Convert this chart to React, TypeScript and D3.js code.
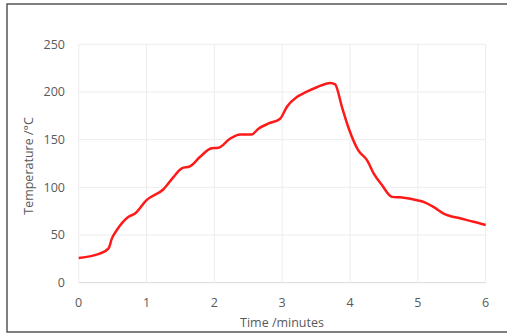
import React, { useEffect, useRef } from 'react';
import * as d3 from 'd3';

// time in minutes
const times = [0, 0.31, 0.44, 0.49, 0.56, 0.73, 0.83, 1.0, 1.25, 1.4, 1.52, 1.64, 1.79, 1.96, 2.06, 2.23, 2.38, 2.55, 2.65, 2.8, 2.97, 3.07, 3.22, 3.34, 3.51, 3.71, 3.78, 3.88, 3.98, 4.12, 4.25, 4.35, 4.47, 4.62, 4.74, 4.99, 5.11, 5.23, 5.38, 5.62, 5.82, 6.0];
// temperature in °C
const temps = [26, 30.5, 36, 46.5, 55, 69, 72.5, 86.5, 98, 111, 120, 122, 132, 141, 141.5, 151, 155.5, 155.5, 161.5, 167, 172, 184.5, 195, 199.5, 205, 209.5, 208, 184.5, 162, 139, 128.5, 114.5, 102.5, 90, 89.5, 86.5, 84, 79.5, 72.5, 67.5, 64, 60.5];
const xTicks = [0, 1, 2, 3, 4, 5, 6];
const yTicks = [0, 50, 100, 150, 200, 250];

const W = 507;
const H = 334;

const App: React.FC = () => {
  const ref = useRef<SVGSVGElement | null>(null);

  useEffect(() => {
    const svg = d3.select(ref.current);
    svg.selectAll('*').remove();

    const x = d3.scaleLinear().domain([0, 6]).range([78.7, 485.7]);
    const y = d3.scaleLinear().domain([0, 250]).range([282.7, 44.3]);
    const font = '"Open Sans", "Liberation Sans", sans-serif';
    const fs = 12.5;

    svg.append('rect').attr('width', W).attr('height', H).attr('fill', '#fff');
    // outer frame
    svg.append('rect')
      .attr('x', 7).attr('y', 4)
      .attr('width', W + 10).attr('height', 328)
      .attr('fill', 'none').attr('stroke', '#555').attr('stroke-width', 1.5);

    // gridlines
    svg.append('g').selectAll('line').data(yTicks).enter().append('line')
      .attr('x1', x(0)).attr('x2', x(6))
      .attr('y1', (d) => y(d)).attr('y2', (d) => y(d))
      .attr('stroke', (d) => (d === 0 ? '#d9d9d9' : '#ececec')).attr('stroke-width', 1);
    svg.append('g').selectAll('line').data(xTicks).enter().append('line')
      .attr('x1', (d) => x(d)).attr('x2', (d) => x(d))
      .attr('y1', y(0)).attr('y2', y(250))
      .attr('stroke', '#ececec').attr('stroke-width', 1);

    // tick labels
    svg.append('g').selectAll('text').data(yTicks).enter().append('text')
      .attr('x', 65).attr('y', (d) => y(d)).attr('dy', '0.35em')
      .attr('text-anchor', 'end').attr('font-family', font).attr('font-size', fs)
      .attr('fill', '#595959').text((d) => d);
    svg.append('g').selectAll('text').data(xTicks).enter().append('text')
      .attr('x', (d) => x(d)).attr('y', 303).attr('dy', '0.35em')
      .attr('text-anchor', 'middle').attr('font-family', font).attr('font-size', fs)
      .attr('fill', '#595959').text((d) => d);

    // axis titles
    svg.append('text')
      .attr('x', 282).attr('y', 323).attr('dy', '0.35em')
      .attr('text-anchor', 'middle').attr('font-family', font).attr('font-size', fs)
      .attr('fill', '#595959').text('Time /minutes');
    svg.append('text')
      .attr('transform', `translate(29,166) rotate(-90)`)
      .attr('dy', '0.35em')
      .attr('text-anchor', 'middle').attr('font-family', font).attr('font-size', fs)
      .attr('fill', '#595959').text('Temperature /°C');

    // line
    const pts = times.map((t, i) => [t, temps[i]] as [number, number]);
    const line = d3.line<[number, number]>()
      .x((d) => x(d[0]))
      .y((d) => y(d[1]))
      .curve(d3.curveMonotoneX);
    svg.append('path')
      .attr('d', line(pts))
      .attr('fill', 'none').attr('stroke', '#ff1a1a')
      .attr('stroke-width', 2.5).attr('stroke-linejoin', 'round');
  }, []);

  return (
    <svg ref={ref} width={W} height={H}
      style={{ position: 'absolute', left: 0, top: 0, display: 'block' }} />
  );
};

export default App;
